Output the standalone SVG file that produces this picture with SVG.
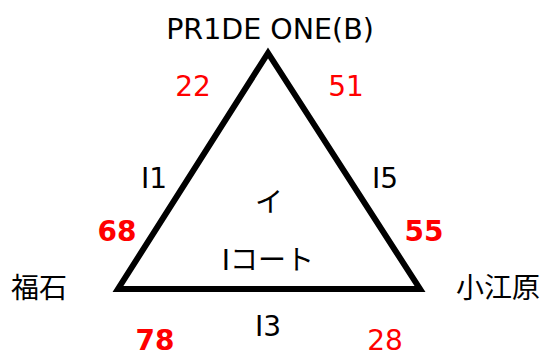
<svg xmlns="http://www.w3.org/2000/svg" width="545" height="358" viewBox="0 0 545 358">
<style>
text{font-family:"DejaVu Sans","Noto Sans CJK JP",sans-serif;font-size:28px;fill:#000}
.c{text-anchor:middle}
.r{fill:#ff0000}
.b{font-weight:bold}
.edge{fill:none;stroke:#000;stroke-width:6;stroke-linejoin:miter}
</style>
<rect width="545" height="358" fill="#fff"/>
<g id="connectors">
<path class="edge" d="M268,53 L118,289 L420,289 Z"/>
</g>
<g id="node-top"><text class="c" x="270" y="39" style="font-size:28.5px">PR1DE ONE(B)</text></g>
<g id="node-left"><text x="11" y="298">福石</text></g>
<g id="node-right"><text x="456" y="298">小江原</text></g>
<g id="node-center">
<text class="c" x="269" y="212">イ</text>
<text class="c" x="268" y="270">Iコート</text>
</g>
<g id="labels">
<text class="c" x="154" y="188">I1</text>
<text class="c" x="385" y="188">I5</text>
<text class="c" x="268" y="336">I3</text>
<text class="c r" x="193" y="96">22</text>
<text class="c r" x="346" y="96">51</text>
<text class="c r b" x="117" y="241">68</text>
<text class="c r b" x="424" y="241">55</text>
<text class="c r b" x="155" y="350">78</text>
<text class="c r" x="385" y="350">28</text>
</g>
</svg>
